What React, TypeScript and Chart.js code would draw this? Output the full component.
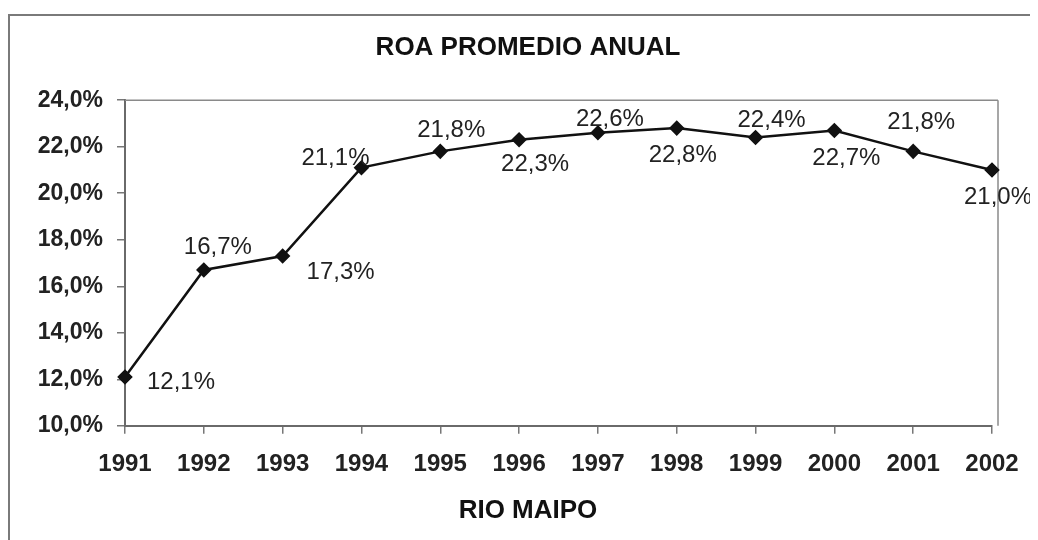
import React, { useEffect, useRef } from "react";
import { Chart, registerables } from "chart.js";

Chart.register(...registerables);

const years = ["1991", "1992", "1993", "1994", "1995", "1996", "1997", "1998", "1999", "2000", "2001", "2002"];
const roa = [12.1, 16.7, 17.3, 21.1, 21.8, 22.3, 22.6, 22.8, 22.4, 22.7, 21.8, 21.0];
const yTicks = [10, 12, 14, 16, 18, 20, 22, 24];

// label placement (style only): [dx, dy] from the marker
const labelOffsets: [number, number][] = [
  [56, 5], [14, -23], [58, 16], [-26, -9], [11, -21], [16, 25],
  [12, -13], [6, 27], [16, -17], [12, 28], [8, -29], [6, 27],
];

const FONT = "'Liberation Sans', Arial, 'DejaVu Sans', sans-serif";
const fmt = (v: number) => v.toFixed(1).replace(".", ",") + "%";

const decorPlugin = {
  id: "decor",
  beforeDraw(chart: any) {
    const { ctx, width, height } = chart;
    ctx.save();
    ctx.fillStyle = "#ffffff";
    ctx.fillRect(0, 0, width, height);
    ctx.strokeStyle = "#7a7a7a";
    ctx.lineWidth = 2;
    ctx.beginPath();
    ctx.moveTo(1, height);
    ctx.lineTo(1, 7);
    ctx.lineTo(width, 7);
    ctx.stroke();
    ctx.restore();
  },
  beforeDatasetsDraw(chart: any) {
    const { ctx, chartArea } = chart;
    ctx.save();
    ctx.strokeStyle = "#8a8a8a";
    ctx.lineWidth = 1.5;
    ctx.beginPath();
    ctx.moveTo(chartArea.left, chartArea.top);
    ctx.lineTo(chartArea.right + 6, chartArea.top);
    ctx.moveTo(chartArea.right + 6, chartArea.top);
    ctx.lineTo(chartArea.right + 6, chartArea.bottom);
    ctx.stroke();
    ctx.restore();
  },
  afterDatasetsDraw(chart: any) {
    const { ctx } = chart;
    const meta = chart.getDatasetMeta(0);
    ctx.save();
    ctx.font = `24px ${FONT}`;
    ctx.fillStyle = "#222222";
    ctx.textAlign = "center";
    ctx.textBaseline = "middle";
    meta.data.forEach((pt: any, i: number) => {
      const [dx, dy] = labelOffsets[i] || [0, -20];
      ctx.fillText(fmt(roa[i]), pt.x + dx, pt.y + dy);
    });
    ctx.restore();
  },
};

export default function App() {
  const ref = useRef<HTMLCanvasElement | null>(null);
  useEffect(() => {
    if (!ref.current) return;
    const chart = new Chart(ref.current, {
      type: "line",
      data: {
        labels: years,
        datasets: [
          {
            data: roa,
            borderColor: "#111111",
            backgroundColor: "#111111",
            borderWidth: 2.5,
            pointStyle: "rectRot",
            pointRadius: 6,
            pointBackgroundColor: "#111111",
            pointBorderColor: "#111111",
            tension: 0,
            fill: false,
          },
        ],
      },
      options: {
        responsive: true,
        maintainAspectRatio: false,
        animation: false,
        layout: { padding: { left: 10, right: 0, top: 0, bottom: 0 } },
        plugins: {
          legend: { display: false },
          tooltip: { enabled: false },
          title: {
            display: true,
            text: "ROA PROMEDIO ANUAL",
            color: "#111111",
            font: { family: FONT, size: 26, weight: "bold" },
            padding: { top: 24, bottom: 37 },
          },
          subtitle: {
            display: true,
            position: "bottom",
            text: "RIO MAIPO",
            color: "#111111",
            font: { family: FONT, size: 26, weight: "bold" },
            padding: { top: 0, bottom: 14 },
          },
        },
        scales: {
          x: {
            type: "category",
            offset: false,
            grid: { display: true, drawOnChartArea: false, drawTicks: true, tickLength: 8, color: "#777777", lineWidth: 1.5 },
            border: { display: true, color: "#6a6a6a", width: 2 },
            ticks: {
              color: "#222222",
              font: { family: FONT, size: 24, weight: "bold" },
              padding: 16,
              maxRotation: 0,
              autoSkip: false,
            },
            afterFit: (s: any) => { s.height = 69; },
          },
          y: {
            type: "linear",
            min: 10,
            max: 24,
            afterBuildTicks: (s: any) => { s.ticks = yTicks.map((v) => ({ value: v })); },
            grid: { display: true, drawOnChartArea: false, drawTicks: true, tickLength: 8, color: "#777777", lineWidth: 1.5 },
            border: { display: true, color: "#6a6a6a", width: 2 },
            ticks: {
              color: "#222222",
              font: { family: FONT, size: 23, weight: "bold" },
              padding: 14,
              callback: (v: any) => fmt(Number(v)),
            },
            afterFit: (s: any) => { s.width = 107; },
          },
          y2: {
            type: "linear",
            position: "right",
            display: true,
            grid: { display: false },
            border: { display: false },
            ticks: { display: false },
            afterFit: (s: any) => { s.width = 46; },
          },
        },
      },
      plugins: [decorPlugin],
    } as any);
    return () => chart.destroy();
  }, []);
  return (
    <div style={{ position: "relative", width: "1030px", height: "532px" }}>
      <canvas ref={ref} />
    </div>
  );
}
